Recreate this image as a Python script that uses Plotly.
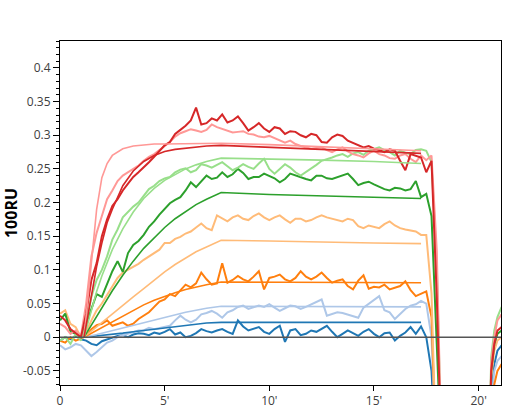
import plotly.graph_objects as go

# sensorgram: response (100RU) vs time (min), measured curves + fitted curves
t_step = 0.25
time = [i * t_step for i in range(74)] + [20.5, 20.6, 20.75, 20.9, 21.1]

red = [0.032, 0.025, 0.012, 0.006, 0.0, 0.035, 0.085, 0.11,
       0.15, 0.175, 0.195, 0.205, 0.218, 0.228, 0.238, 0.245,
       0.252, 0.26, 0.268, 0.277, 0.285, 0.29, 0.302, 0.308,
       0.314, 0.322, 0.341, 0.316, 0.318, 0.325, 0.322, 0.331,
       0.319, 0.322, 0.328, 0.318, 0.307, 0.312, 0.318, 0.31,
       0.305, 0.312, 0.31, 0.302, 0.306, 0.305, 0.3, 0.297,
       0.302, 0.3, 0.29, 0.289, 0.297, 0.301, 0.299, 0.292,
       0.289, 0.285, 0.282, 0.284, 0.28, 0.278, 0.275, 0.279,
       0.277, 0.262, 0.248, 0.272, 0.27, 0.267, 0.245, 0.262,
       0.06, -0.2,
       -0.2, -0.05, -0.01, 0.01, 0.015]
pink = [0.02, 0.015, 0.005, 0.01, 0.002, 0.05, 0.12, 0.155,
        0.18, 0.205, 0.218, 0.232, 0.24, 0.245, 0.25, 0.255,
        0.262, 0.268, 0.272, 0.278, 0.283, 0.29, 0.298, 0.303,
        0.306, 0.309, 0.307, 0.305, 0.308, 0.316, 0.312, 0.309,
        0.306, 0.304, 0.305, 0.306, 0.302, 0.301, 0.298, 0.297,
        0.299, 0.296, 0.292, 0.289, 0.292, 0.287, 0.284, 0.282,
        0.28, 0.281, 0.282, 0.278, 0.275, 0.279, 0.282, 0.276,
        0.272, 0.27, 0.267, 0.273, 0.277, 0.272, 0.27, 0.266,
        0.265, 0.27, 0.272, 0.265, 0.26, 0.27, 0.263, 0.27,
        0.13, -0.2,
        -0.2, -0.04, 0.0, 0.025, 0.034]
lgreen = [-0.005, 0.0, -0.01, 0.005, -0.005, 0.02, 0.06, 0.085,
          0.1, 0.12, 0.145, 0.16, 0.178, 0.186, 0.194, 0.2,
          0.21, 0.22, 0.225, 0.232, 0.236, 0.238, 0.245, 0.249,
          0.251, 0.245, 0.248, 0.257, 0.255, 0.252, 0.256, 0.26,
          0.254, 0.248, 0.252, 0.257, 0.253, 0.25, 0.258, 0.265,
          0.25, 0.243, 0.25, 0.257, 0.252, 0.245, 0.24, 0.245,
          0.25, 0.256, 0.262, 0.264, 0.267, 0.27, 0.272, 0.268,
          0.273, 0.275, 0.271, 0.277, 0.279, 0.282, 0.278, 0.275,
          0.27, 0.277, 0.274, 0.272, 0.278, 0.279, 0.277, 0.26,
          0.11, -0.2,
          -0.2, -0.03, 0.01, 0.03, 0.045]
green = [0.025, 0.035, 0.008, 0.005, -0.002, 0.02, 0.045, 0.064,
         0.06, 0.08, 0.098, 0.113, 0.097, 0.125, 0.137, 0.143,
         0.152, 0.164, 0.172, 0.182, 0.19, 0.199, 0.204, 0.208,
         0.218, 0.23, 0.223, 0.232, 0.24, 0.235, 0.237, 0.245,
         0.238, 0.242, 0.25, 0.244, 0.235, 0.238, 0.238, 0.243,
         0.24, 0.236, 0.23, 0.235, 0.243, 0.24, 0.238, 0.235,
         0.233, 0.24, 0.24, 0.236, 0.235, 0.238, 0.241, 0.243,
         0.235, 0.226, 0.229, 0.231, 0.227, 0.223, 0.22, 0.218,
         0.222, 0.221, 0.218, 0.22, 0.232, 0.208, 0.213, 0.18,
         0.02, -0.2,
         -0.2, -0.05, -0.01, 0.005, 0.01]
lorange = [0.035, 0.04, 0.02, 0.015, 0.0, 0.008, 0.025, 0.04,
           0.05, 0.062, 0.076, 0.088, 0.096, 0.1, 0.105, 0.109,
           0.115, 0.12, 0.124, 0.13, 0.14, 0.14, 0.146, 0.149,
           0.154, 0.157, 0.163, 0.169, 0.162, 0.159, 0.181, 0.176,
           0.172, 0.178, 0.181, 0.176, 0.174, 0.18, 0.184, 0.178,
           0.174, 0.178, 0.181, 0.175, 0.17, 0.176, 0.176, 0.172,
           0.174, 0.178, 0.181, 0.178, 0.176, 0.173, 0.172, 0.176,
           0.174, 0.165, 0.162, 0.166, 0.164, 0.162, 0.168, 0.172,
           0.166, 0.162, 0.16, 0.159, 0.157, 0.152, 0.152, 0.065,
           -0.2, -0.2,
           -0.2, -0.06, -0.02, -0.005, 0.0]
orange = [-0.005, -0.008, 0.0, -0.005, -0.002, 0.002, 0.012, 0.018,
          0.02, 0.025, 0.017, 0.02, 0.022, 0.017, 0.02, 0.027,
          0.032, 0.037, 0.045, 0.053, 0.056, 0.064, 0.061, 0.07,
          0.078, 0.074, 0.08, 0.096, 0.086, 0.078, 0.08, 0.11,
          0.081, 0.085, 0.091, 0.086, 0.083, 0.09, 0.098, 0.071,
          0.088, 0.09, 0.093, 0.086, 0.083, 0.088, 0.098, 0.09,
          0.086, 0.09, 0.096, 0.088, 0.081, 0.084, 0.086, 0.076,
          0.071, 0.084, 0.092, 0.072, 0.075, 0.074, 0.078, 0.071,
          0.074, 0.076, 0.083, 0.07, 0.061, 0.065, 0.068, 0.03,
          -0.2, -0.2,
          -0.2, -0.2, -0.07, -0.05, -0.04]
lblue = [-0.012, -0.018, -0.015, -0.01, -0.012, -0.02, -0.028, -0.022,
         -0.015, -0.008, -0.005, 0.0, 0.003, 0.005, 0.008, 0.01,
         0.01, 0.014, 0.012, 0.014, 0.016, 0.017, 0.025, 0.032,
         0.026, 0.022, 0.026, 0.034, 0.036, 0.039, 0.035, 0.029,
         0.037, 0.04, 0.045, 0.047, 0.042, 0.044, 0.047, 0.045,
         0.049, 0.044, 0.039, 0.043, 0.047, 0.046, 0.042, 0.045,
         0.049, 0.052, 0.056, 0.032, 0.035, 0.037, 0.036, 0.034,
         0.031, 0.029, 0.044, 0.05, 0.055, 0.061, 0.04, 0.037,
         0.027, 0.035, 0.042, 0.047, 0.049, 0.054, 0.05, 0.0,
         -0.2, -0.2,
         -0.2, -0.1, -0.05, -0.035, -0.028]
dblue = [-0.005, 0.0, -0.003, 0.002, -0.003, -0.005, -0.01, -0.012,
         -0.006, -0.003, 0.0, 0.002, 0.003, 0.0, 0.004, 0.006,
         0.005, 0.003, 0.007, 0.005, 0.008, 0.012, 0.004, 0.007,
         0.0, 0.002, 0.006, 0.012, 0.009, 0.007, 0.01, 0.012,
         0.008, 0.005, 0.025, 0.016, 0.01, 0.012, 0.015, 0.008,
         0.005, 0.012, 0.017, -0.007, 0.01, 0.012, 0.003, 0.005,
         0.01, 0.008, 0.012, 0.017, 0.008, 0.0, 0.005, 0.01,
         0.006, 0.002, 0.008, 0.012, 0.005, 0.0, 0.006, 0.007,
         -0.005, 0.002, 0.007, 0.015, 0.005, 0.016, 0.0, -0.05,
         -0.2, -0.2,
         -0.2, -0.08, -0.04, -0.02, -0.012]

# fitted curves
fit_t = [1.15, 1.5, 1.75, 2.0, 2.25, 2.5, 3.0, 3.5, 4.0, 4.5,
         5.0, 5.5, 6.0, 6.5, 7.0, 7.7, 10.0, 12.5, 15.0, 17.25]
fit_pink = [0, 0.112, 0.19, 0.237, 0.258, 0.27, 0.28, 0.284, 0.286, 0.287,
            0.287, 0.287, 0.288, 0.288, 0.288, 0.288, 0.286, 0.283, 0.28, 0.277]
fit_red = [0, 0.06, 0.105, 0.14, 0.17, 0.19, 0.225, 0.247, 0.261, 0.27,
           0.276, 0.279, 0.281, 0.283, 0.284, 0.285, 0.282, 0.279, 0.276, 0.273]
fit_lgreen = [0, 0.039, 0.068, 0.091, 0.112, 0.13, 0.161, 0.186, 0.206, 0.221,
              0.233, 0.242, 0.25, 0.256, 0.261, 0.266, 0.265, 0.263, 0.261, 0.258]
fit_green = [0, 0.018, 0.032, 0.045, 0.057, 0.069, 0.092, 0.113, 0.132, 0.148,
             0.163, 0.176, 0.187, 0.197, 0.205, 0.215, 0.212, 0.21, 0.208, 0.206]
fit_lorange = [0, 0.009, 0.016, 0.022, 0.028, 0.035, 0.047, 0.06, 0.072, 0.085,
               0.097, 0.108, 0.118, 0.127, 0.134, 0.144, 0.143, 0.141, 0.14, 0.139]
fit_orange = [0, 0.006, 0.01, 0.015, 0.019, 0.023, 0.032, 0.04, 0.048, 0.055,
              0.061, 0.066, 0.071, 0.075, 0.078, 0.082, 0.082, 0.082, 0.081, 0.081]
fit_lblue = [0, 0.002, 0.004, 0.006, 0.008, 0.009, 0.013, 0.017, 0.021, 0.025,
             0.029, 0.033, 0.037, 0.04, 0.043, 0.046, 0.046, 0.045, 0.045, 0.045]
fit_dblue = [0, 0.001, 0.002, 0.003, 0.004, 0.004, 0.006, 0.008, 0.01, 0.012,
             0.014, 0.016, 0.018, 0.02, 0.021, 0.022, 0.022, 0.022, 0.022, 0.022]

x_tickvals = [0, 5, 10, 15, 20]
x_ticktext = ["0", "5'", "10'", "15'", "20'"]
y_tickvals = [-0.05, 0, 0.05, 0.1, 0.15, 0.2, 0.25, 0.3, 0.35, 0.4]
y_ticktext = ["-0.05", "0", "0.05", "0.1", "0.15", "0.2", "0.25", "0.3", "0.35", "0.4"]

series = [
    (dblue, fit_dblue, '#1f77b4'),
    (lblue, fit_lblue, '#aec7e8'),
    (orange, fit_orange, '#ff7f0e'),
    (lorange, fit_lorange, '#ffbb78'),
    (green, fit_green, '#2ca02c'),
    (lgreen, fit_lgreen, '#98df8a'),
    (pink, fit_pink, '#ff9896'),
    (red, fit_red, '#d62728'),
]

fig = go.Figure()
for data, fit, color in series:
    fig.add_trace(go.Scatter(x=time, y=data, mode='lines', line=dict(color=color, width=2),
                             showlegend=False, hoverinfo='skip'))
for data, fit, color in series:
    fig.add_trace(go.Scatter(x=fit_t, y=fit, mode='lines', line=dict(color=color, width=1.6),
                             showlegend=False, hoverinfo='skip'))

# baseline at 0
fig.add_shape(type='line', xref='paper', x0=0, x1=1, yref='y', y0=0, y1=0,
              line=dict(color='#555555', width=1.5), layer='above')

fig.update_layout(
    width=505, height=415,
    margin=dict(l=60, r=4, t=41, b=30),
    plot_bgcolor='white', paper_bgcolor='white',
    font=dict(family='Open Sans', size=12, color='#404040'),
    xaxis=dict(range=[0, 21.07], tickvals=x_tickvals, ticktext=x_ticktext,
               ticks='outside', ticklen=5, tickcolor='black', showgrid=False,
               zeroline=False, showline=True, linecolor='black', linewidth=1, mirror=True),
    yaxis=dict(range=[-0.071, 0.44], tickvals=y_tickvals, ticktext=y_ticktext,
               ticks='outside', ticklen=6, tickcolor='black', showgrid=False,
               zeroline=False, showline=True, linecolor='black', linewidth=1, mirror=True,
               minor=dict(dtick=0.01, tick0=0, ticks='outside', ticklen=3, tickcolor='black'),
               title=dict(text='<b>100RU</b>', font=dict(size=16, color='black'), standoff=6)),
)

fig.write_html("out.html", config={'displayModeBar': False},
               post_script="document.body.style.margin='0';")
